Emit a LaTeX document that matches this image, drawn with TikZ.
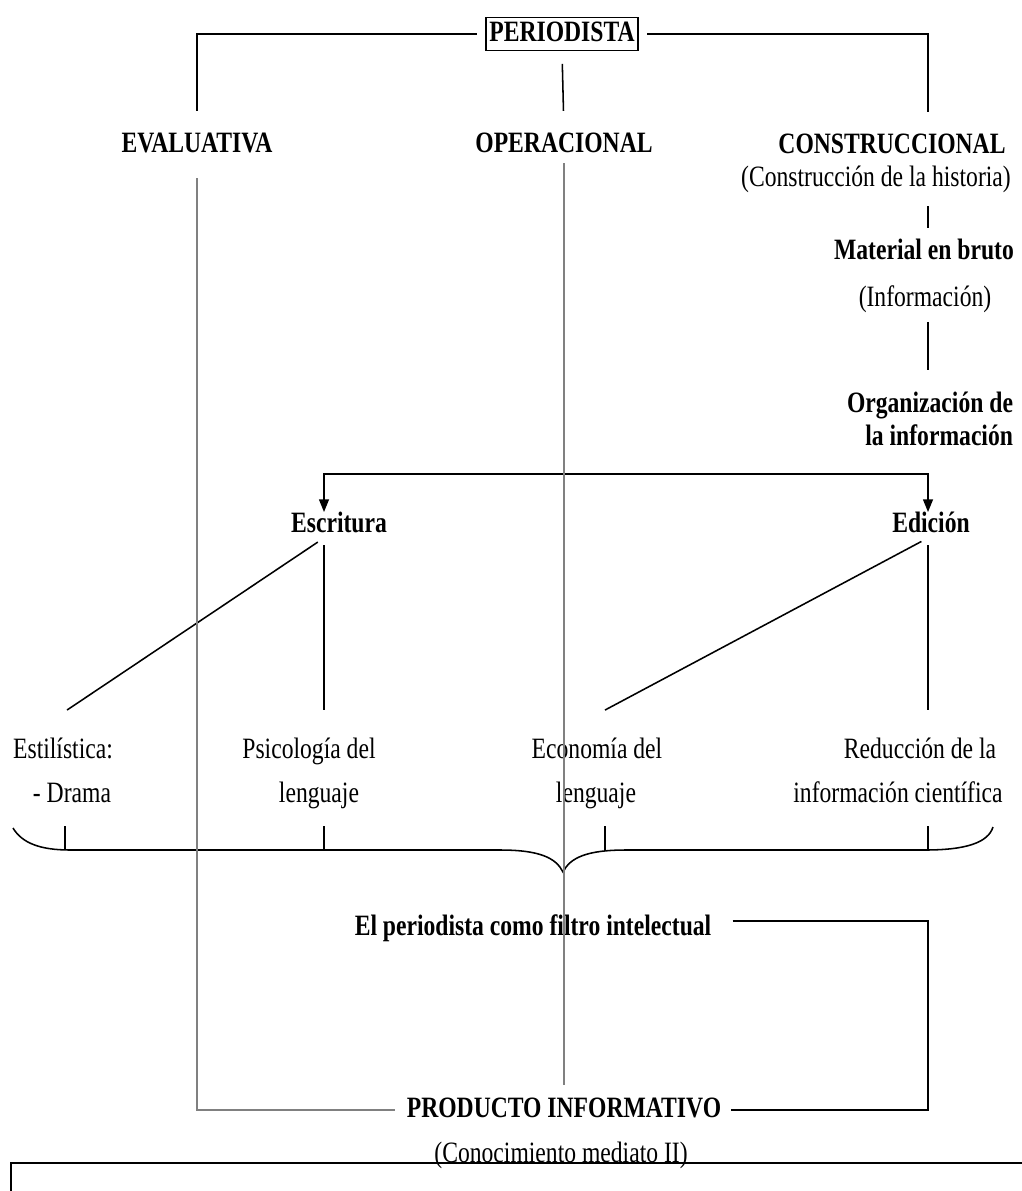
\documentclass[tikz,border=0pt]{standalone}
\usepackage{fontspec}
\setmainfont{Liberation Serif}[FakeStretch=0.8]
\usetikzlibrary{arrows.meta}

\begin{document}
\begin{tikzpicture}[
    x=0.025cm, y=-0.025cm,
    lbl/.style={inner sep=0pt, text height=14pt, text depth=4pt,
      font=\fontsize{21}{24}\selectfont},
    head/.style={lbl, font=\fontsize{21}{24}\selectfont\bfseries},
    line/.style={line width=1.1pt},
    gline/.style={line width=0.8pt, color=black!50},
    arr/.style={line, {Triangle[length=9pt,width=7pt]}-{Triangle[length=9pt,width=7pt]}},
  ]
  \useasboundingbox (0,0) rectangle (1021,1191);

  \coordinate (lx) at (324,0);
  \coordinate (rx) at (928,0);
  \coordinate (split) at (626,474);

  \node[head, draw, line width=0.9pt, minimum width=3.8cm, minimum height=0.825cm]
    (periodista) at (562,34) {PERIODISTA};
  \node[head] (evaluativa) at (197,145) {EVALUATIVA};
  \node[head] (operacional) at (564,145) {OPERACIONAL};
  \node[head] (construccional) at (892,146) {CONSTRUCCIONAL};
  \node[lbl] (historia) at (876,179) {(Construcción de la historia)};
  \node[head] (material) at (924,252) {Material en bruto};
  \node[lbl] (informacion) at (925,299) {(Información)};
  \node[head] (organizacion) at (930,405) {Organización de};
  \node[head, anchor=east] (organizacion2) at (organizacion.east |- 0,438) {la información};

  \node[head] (escritura) at (339,525) {Escritura};
  \node[head] (edicion) at (931,525) {Edición};

  \node[lbl] (estilistica) at (63,751) {Estilística:};
  \node[lbl] (drama) at (72,795) {- Drama};
  \node[lbl] (psicologia) at (309,751) {Psicología del};
  \node[lbl] (lenguaje1) at (319,795) {lenguaje};
  \node[lbl] (economia) at (597,751) {Economía del};
  \node[lbl] (lenguaje2) at (596,795) {lenguaje};
  \node[lbl] (reduccion) at (920,751) {Reducción de la};
  \node[lbl] (cientifica) at (898,795) {información científica};

  \node[head] (filtro) at (533,928) {El periodista como filtro intelectual};
  \node[head] (producto) at (564,1110) {PRODUCTO INFORMATIVO};
  \node[lbl] (conocimiento) at (561,1155) {(Conocimiento mediato II)};

  % tronco superior
  \draw[line, shorten <=6pt, shorten >=15pt] (periodista.west) -| (evaluativa.north);
  \draw[line, shorten <=6pt, shorten >=15pt] (periodista.east) -| (rx |- construccional.north);
  \draw[line, shorten <=9pt, shorten >=15pt] (periodista.south) -- (operacional.north);

  % columna constructiva
  \draw[line, shorten <=10pt, shorten >=8pt] (historia.south -| rx) -- (material.north -| rx);
  \draw[line, shorten <=7pt, shorten >=16pt] (informacion.south -| rx) -- (organizacion.north -| rx);
  \draw[arr] (escritura.north -| lx) |- (split) -| (edicion.north -| rx);

  \draw[line, shorten <=5.3pt] (escritura.south -| lx) -- ([xshift=0.1cm, yshift=0.7cm]estilistica.north);
  \draw[line, shorten <=5.3pt, shorten >=20pt] (escritura.south -| lx) -- (psicologia.north -| lx);
  \draw[line, shorten <=5.3pt] (edicion.south -| rx) -- ([xshift=0.2cm, yshift=0.7cm]economia.north);
  \draw[line, shorten <=5.3pt, shorten >=20pt] (edicion.south -| rx) -- (reduccion.north -| rx);

  % llave
  \draw[line] (13,828) .. controls (22,843) and (40,850) .. (70,850) -- (500,850)
    .. controls (540,850) and (556,858) .. (563,872)
    .. controls (570,858) and (586,850) .. (626,850) -- (925,850)
    .. controls (965,850) and (988,843) .. (993,827);
  \foreach \x in {65,324,605,928}
    \draw[line] (\x,826) -- (\x,850);

  % lineas grises
  \draw[gline, shorten <=14.5pt, shorten >=8.5pt] (evaluativa.south) |- (producto.west);
  \draw[gline, shorten <=3.6pt, shorten >=8.5pt] (operacional.south) -- (producto.north);

  \draw[line, shorten <=15pt, shorten >=7pt] ([yshift=0.175cm]filtro.east)
    -| (rx |- producto.east) -- (producto.east);

  \draw[line width=2pt] (11,1200) -- (11,1163) -- (1030,1163);
\end{tikzpicture}
\end{document}
